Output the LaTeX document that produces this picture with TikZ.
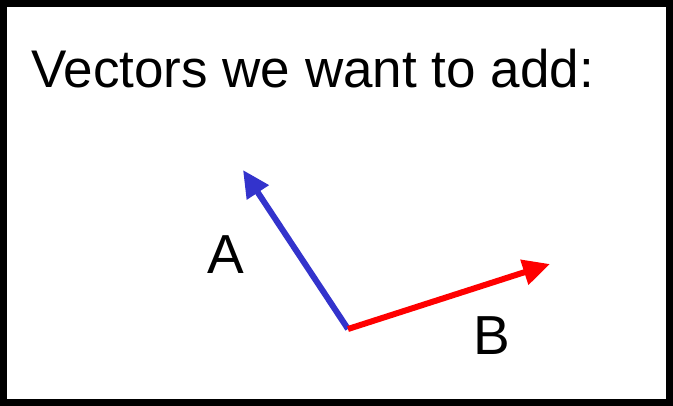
\documentclass[tikz,border=0pt]{standalone}
\usepackage{fontspec}
\setmainfont{Liberation Sans}
\usetikzlibrary{arrows.meta}
\definecolor{vecblue}{RGB}{51,51,204}
\tikzset{
  vecline/.style={line width=6pt,-{Triangle[length=27pt,width=25pt]}},
  bigtext/.style={font=\fontsize{55}{60}\selectfont}
}
\begin{document}
\begin{tikzpicture}[x=1pt,y=-1pt]
\useasboundingbox (0,0) rectangle (673,406);
\draw[line width=6.5pt] (3.5,3.5) rectangle (669.5,402.5);
\node[bigtext,font=\fontsize{53}{58}\selectfont,anchor=base west,inner sep=0pt] (title) at (31,88) {Vectors we want to add:};

\coordinate (o) at (348,329);
\coordinate (a) at (243,170);
\coordinate (b) at (550,264);
\draw[vecline,vecblue] (o) -- (a);
\draw[vecline,red] (o) -- (b);

\node[bigtext] (la) at (226,255) {A};
\node[bigtext] (lb) at (492,336) {B};
\end{tikzpicture}
\end{document}
